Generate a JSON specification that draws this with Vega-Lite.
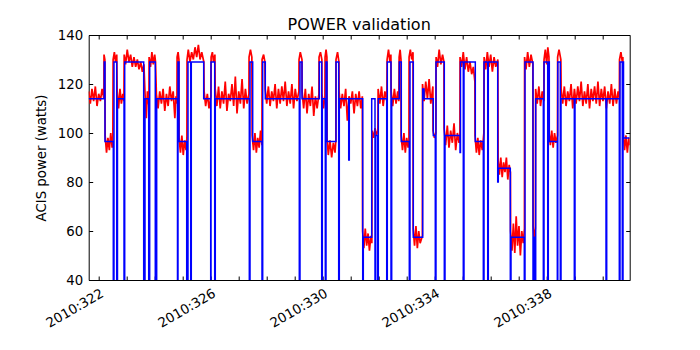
{
"$schema": "https://vega.github.io/schema/vega-lite/v6.json",
"width": 541, "height": 245,
"autosize": {"type": "none"},
"padding": {"left": 88.7, "top": 35, "right": 70.3, "bottom": 70},
"background": "white",
"title": {"text": "POWER validation", "font": "DejaVu Sans", "fontSize": 16, "fontWeight": "normal", "color": "black", "offset": -5},
"config": {
  "view": {"stroke": "black", "strokeWidth": 1},
  "axis": {"labelFont": "DejaVu Sans", "labelFontSize": 13.3, "labelColor": "black", "tickColor": "black", "tickWidth": 1, "domain": false, "grid": false, "titleFont": "DejaVu Sans", "titleFontSize": 13.3, "titleFontWeight": "normal", "titleColor": "black", "labelOverlap": false, "labelFlush": false}
},
"datasets": {
"telemetry": [
{"t":321.643,"p":117},{"t":321.70,"p":112},{"t":321.76,"p":118},{"t":321.82,"p":113},{"t":321.88,"p":119},{"t":321.94,"p":111},{"t":322.00,"p":116},{"t":322.06,"p":113},{"t":322.12,"p":118},{"t":322.185,"p":114},
{"t":322.19,"p":132},{"t":322.22,"p":130},
{"t":322.23,"p":99},{"t":322.28,"p":92},{"t":322.33,"p":98},{"t":322.38,"p":93},{"t":322.43,"p":100},{"t":322.48,"p":94},{"t":322.505,"p":97},
{"t":322.515,"p":130},{"t":322.56,"p":133},{"t":322.60,"p":129},{"t":322.645,"p":132},
{"t":322.66,"p":117},{"t":322.71,"p":110},{"t":322.76,"p":118},{"t":322.81,"p":112},{"t":322.86,"p":116},{"t":322.90,"p":113},
{"t":322.91,"p":132},{"t":322.96,"p":128},{"t":323.02,"p":134},{"t":323.08,"p":129},{"t":323.14,"p":132},{"t":323.20,"p":127},{"t":323.26,"p":131},{"t":323.32,"p":127},{"t":323.38,"p":130},{"t":323.44,"p":126},{"t":323.50,"p":129},{"t":323.56,"p":125},{"t":323.615,"p":128},
{"t":323.655,"p":116},{"t":323.70,"p":106},{"t":323.74,"p":117},{"t":323.795,"p":111},
{"t":323.80,"p":131},{"t":323.85,"p":127},{"t":323.90,"p":133},{"t":323.95,"p":128},{"t":324.00,"p":132},{"t":324.03,"p":129},
{"t":324.06,"p":116},{"t":324.12,"p":110},{"t":324.18,"p":117},{"t":324.24,"p":112},{"t":324.30,"p":118},{"t":324.36,"p":109},{"t":324.42,"p":116},{"t":324.48,"p":111},{"t":324.54,"p":119},{"t":324.60,"p":113},{"t":324.66,"p":117},{"t":324.72,"p":106},{"t":324.76,"p":115},{"t":324.795,"p":112},
{"t":324.80,"p":131},{"t":324.835,"p":133},{"t":324.865,"p":130},
{"t":324.87,"p":98},{"t":324.92,"p":92},{"t":324.97,"p":99},{"t":325.02,"p":91},{"t":325.07,"p":97},{"t":325.12,"p":93},{"t":325.15,"p":98},
{"t":325.155,"p":130},{"t":325.20,"p":134},{"t":325.26,"p":129},{"t":325.32,"p":133},{"t":325.38,"p":130},{"t":325.44,"p":135},{"t":325.50,"p":131},{"t":325.56,"p":136},{"t":325.62,"p":130},{"t":325.68,"p":133},{"t":325.755,"p":129},
{"t":325.765,"p":117},{"t":325.82,"p":111},{"t":325.88,"p":116},{"t":325.94,"p":110},{"t":326.005,"p":115},
{"t":326.015,"p":131},{"t":326.06,"p":133},{"t":326.10,"p":129},{"t":326.15,"p":132},
{"t":326.16,"p":118},{"t":326.22,"p":111},{"t":326.28,"p":119},{"t":326.34,"p":110},{"t":326.40,"p":117},{"t":326.46,"p":112},{"t":326.52,"p":121},{"t":326.58,"p":109},{"t":326.64,"p":116},{"t":326.70,"p":113},{"t":326.76,"p":120},{"t":326.82,"p":111},{"t":326.88,"p":123},{"t":326.94,"p":108},{"t":327.00,"p":117},{"t":327.06,"p":112},{"t":327.12,"p":122},{"t":327.18,"p":110},{"t":327.24,"p":118},{"t":327.30,"p":112},{"t":327.365,"p":116},
{"t":327.37,"p":131},{"t":327.42,"p":134},{"t":327.47,"p":131},
{"t":327.48,"p":99},{"t":327.53,"p":93},{"t":327.58,"p":100},{"t":327.63,"p":92},{"t":327.68,"p":98},{"t":327.73,"p":94},{"t":327.78,"p":101},{"t":327.83,"p":95},
{"t":327.835,"p":130},{"t":327.89,"p":132},{"t":327.935,"p":129},
{"t":327.945,"p":118},{"t":328.00,"p":112},{"t":328.06,"p":119},{"t":328.12,"p":111},{"t":328.18,"p":117},{"t":328.24,"p":113},{"t":328.30,"p":120},{"t":328.36,"p":110},{"t":328.42,"p":118},{"t":328.48,"p":112},{"t":328.54,"p":119},{"t":328.60,"p":113},{"t":328.66,"p":121},{"t":328.72,"p":111},{"t":328.78,"p":117},{"t":328.84,"p":112},{"t":328.90,"p":120},{"t":328.96,"p":110},{"t":329.02,"p":118},{"t":329.08,"p":113},{"t":329.15,"p":117},
{"t":329.155,"p":130},{"t":329.20,"p":133},{"t":329.26,"p":130},
{"t":329.265,"p":117},{"t":329.32,"p":110},{"t":329.38,"p":118},{"t":329.44,"p":108},{"t":329.50,"p":116},{"t":329.56,"p":111},{"t":329.62,"p":119},{"t":329.68,"p":107},{"t":329.74,"p":115},{"t":329.80,"p":110},{"t":329.865,"p":116},
{"t":329.87,"p":131},{"t":329.92,"p":133},{"t":329.97,"p":130},
{"t":329.975,"p":116},{"t":330.03,"p":110},{"t":330.08,"p":115},
{"t":330.085,"p":131},{"t":330.12,"p":134},{"t":330.15,"p":131},
{"t":330.155,"p":98},{"t":330.20,"p":91},{"t":330.26,"p":97},{"t":330.32,"p":90},{"t":330.38,"p":96},{"t":330.44,"p":92},{"t":330.47,"p":97},
{"t":330.475,"p":130},{"t":330.53,"p":133},{"t":330.58,"p":129},
{"t":330.585,"p":117},{"t":330.64,"p":110},{"t":330.70,"p":116},{"t":330.76,"p":111},{"t":330.82,"p":118},{"t":330.88,"p":105},{"t":330.94,"p":115},{"t":331.00,"p":112},{"t":331.06,"p":117},{"t":331.12,"p":108},{"t":331.18,"p":116},{"t":331.24,"p":111},{"t":331.30,"p":117},{"t":331.36,"p":110},{"t":331.415,"p":115},
{"t":331.425,"p":60},{"t":331.47,"p":53},{"t":331.52,"p":61},{"t":331.57,"p":54},{"t":331.62,"p":59},{"t":331.67,"p":52},{"t":331.72,"p":58},{"t":331.755,"p":55},
{"t":331.765,"p":101},{"t":331.82,"p":98},{"t":331.87,"p":102},{"t":331.92,"p":99},{"t":331.97,"p":101},
{"t":331.98,"p":118},{"t":332.04,"p":112},{"t":332.10,"p":119},{"t":332.16,"p":111},{"t":332.22,"p":117},{"t":332.29,"p":113},
{"t":332.30,"p":130},{"t":332.35,"p":134},{"t":332.40,"p":129},{"t":332.435,"p":132},
{"t":332.445,"p":117},{"t":332.50,"p":111},{"t":332.56,"p":118},{"t":332.62,"p":112},{"t":332.68,"p":117},{"t":332.72,"p":113},
{"t":332.73,"p":131},{"t":332.765,"p":134},{"t":332.795,"p":130},
{"t":332.80,"p":99},{"t":332.85,"p":93},{"t":332.90,"p":100},{"t":332.95,"p":92},{"t":333.00,"p":98},{"t":333.05,"p":94},{"t":333.08,"p":97},
{"t":333.085,"p":131},{"t":333.13,"p":134},{"t":333.18,"p":130},{"t":333.225,"p":133},
{"t":333.23,"p":61},{"t":333.28,"p":54},{"t":333.33,"p":62},{"t":333.38,"p":53},{"t":333.43,"p":60},{"t":333.48,"p":55},{"t":333.56,"p":58},
{"t":333.565,"p":120},{"t":333.62,"p":113},{"t":333.68,"p":121},{"t":333.74,"p":114},{"t":333.80,"p":122},{"t":333.86,"p":112},{"t":333.935,"p":119},
{"t":333.94,"p":101},{"t":333.99,"p":98},{"t":334.04,"p":100},
{"t":334.05,"p":131},{"t":334.10,"p":127},{"t":334.16,"p":134},{"t":334.22,"p":128},{"t":334.28,"p":132},{"t":334.33,"p":129},
{"t":334.335,"p":102},{"t":334.39,"p":95},{"t":334.45,"p":103},{"t":334.51,"p":94},{"t":334.57,"p":101},{"t":334.63,"p":96},{"t":334.69,"p":104},{"t":334.75,"p":93},{"t":334.81,"p":100},{"t":334.87,"p":96},{"t":334.90,"p":99},
{"t":334.905,"p":131},{"t":334.96,"p":127},{"t":335.02,"p":133},{"t":335.08,"p":126},{"t":335.14,"p":131},{"t":335.20,"p":125},{"t":335.26,"p":129},{"t":335.32,"p":124},{"t":335.38,"p":127},{"t":335.435,"p":121},
{"t":335.44,"p":99},{"t":335.49,"p":92},{"t":335.54,"p":98},{"t":335.59,"p":91},{"t":335.64,"p":97},{"t":335.70,"p":93},{"t":335.755,"p":100},
{"t":335.765,"p":131},{"t":335.82,"p":126},{"t":335.88,"p":133},{"t":335.94,"p":127},{"t":336.00,"p":132},{"t":336.06,"p":125},{"t":336.12,"p":131},{"t":336.18,"p":127},{"t":336.255,"p":130},
{"t":336.265,"p":89},{"t":336.31,"p":83},{"t":336.36,"p":90},{"t":336.41,"p":82},{"t":336.46,"p":88},{"t":336.51,"p":84},{"t":336.56,"p":90},{"t":336.61,"p":81},{"t":336.66,"p":87},{"t":336.705,"p":84},
{"t":336.71,"p":60},{"t":336.76,"p":52},{"t":336.81,"p":63},{"t":336.86,"p":51},{"t":336.91,"p":66},{"t":336.96,"p":54},{"t":337.01,"p":62},{"t":337.06,"p":50},{"t":337.11,"p":60},{"t":337.16,"p":55},{"t":337.205,"p":61},
{"t":337.21,"p":131},{"t":337.26,"p":126},{"t":337.32,"p":133},{"t":337.38,"p":127},{"t":337.44,"p":132},{"t":337.505,"p":128},
{"t":337.515,"p":62},{"t":337.55,"p":57},{"t":337.595,"p":61},
{"t":337.605,"p":118},{"t":337.66,"p":112},{"t":337.72,"p":119},{"t":337.78,"p":111},{"t":337.84,"p":117},{"t":337.90,"p":113},
{"t":337.905,"p":130},{"t":337.95,"p":134},{"t":338.00,"p":128},{"t":338.04,"p":135},{"t":338.08,"p":131},
{"t":338.085,"p":100},{"t":338.13,"p":95},{"t":338.18,"p":101},{"t":338.23,"p":94},{"t":338.28,"p":100},{"t":338.33,"p":96},{"t":338.385,"p":99},
{"t":338.39,"p":131},{"t":338.44,"p":134},{"t":338.505,"p":130},
{"t":338.515,"p":118},{"t":338.57,"p":112},{"t":338.63,"p":119},{"t":338.69,"p":111},{"t":338.75,"p":117},{"t":338.81,"p":113},{"t":338.87,"p":120},{"t":338.93,"p":110},{"t":338.99,"p":118},{"t":339.05,"p":112},{"t":339.11,"p":119},{"t":339.17,"p":113},{"t":339.23,"p":121},{"t":339.29,"p":111},{"t":339.35,"p":117},{"t":339.41,"p":112},{"t":339.47,"p":120},{"t":339.53,"p":110},{"t":339.59,"p":118},{"t":339.65,"p":113},{"t":339.71,"p":119},{"t":339.77,"p":112},{"t":339.83,"p":121},{"t":339.89,"p":111},{"t":339.95,"p":118},{"t":340.01,"p":113},{"t":340.07,"p":119},{"t":340.13,"p":110},{"t":340.19,"p":117},{"t":340.25,"p":112},{"t":340.31,"p":120},{"t":340.37,"p":111},{"t":340.43,"p":118},{"t":340.49,"p":112},{"t":340.55,"p":117},{"t":340.595,"p":114},
{"t":340.60,"p":130},{"t":340.65,"p":133},{"t":340.70,"p":129},{"t":340.72,"p":131},
{"t":340.73,"p":100},{"t":340.78,"p":93},{"t":340.83,"p":99},{"t":340.88,"p":92},{"t":340.93,"p":98},{"t":340.964,"p":95}
],
"model": [
{"t":321.643,"p":114},{"t":322.2,"p":114},{"t":322.2,"p":129},{"t":322.225,"p":129},{"t":322.225,"p":96.5},{"t":322.521,"p":96.5},{"t":322.521,"p":0},{"t":322.546,"p":0},{"t":322.546,"p":129},{"t":322.643,"p":129},{"t":322.643,"p":0},{"t":322.671,"p":0},{"t":322.671,"p":114},{"t":322.904,"p":114},{"t":322.904,"p":0},{"t":322.929,"p":0},{"t":322.929,"p":129},{"t":323.607,"p":129},{"t":323.607,"p":0},{"t":323.654,"p":0},{"t":323.654,"p":114},{"t":323.786,"p":114},{"t":323.786,"p":0},{"t":323.821,"p":0},{"t":323.821,"p":129},{"t":324.021,"p":129},{"t":324.021,"p":0},{"t":324.071,"p":0},{"t":324.071,"p":114},{"t":324.814,"p":114},{"t":324.814,"p":0},{"t":324.832,"p":0},{"t":324.832,"p":129},{"t":324.868,"p":129},{"t":324.868,"p":96.5},{"t":325.143,"p":96.5},{"t":325.143,"p":0},{"t":325.189,"p":0},{"t":325.189,"p":129},{"t":325.286,"p":129},{"t":325.286,"p":0},{"t":325.307,"p":0},{"t":325.307,"p":129},{"t":325.75,"p":129},{"t":325.75,"p":114},{"t":326.0,"p":114},{"t":326.0,"p":0},{"t":326.011,"p":0},{"t":326.011,"p":129},{"t":326.143,"p":129},{"t":326.143,"p":0},{"t":326.164,"p":0},{"t":326.164,"p":114},{"t":327.379,"p":114},{"t":327.379,"p":0},{"t":327.404,"p":0},{"t":327.404,"p":129},{"t":327.5,"p":129},{"t":327.5,"p":96.5},{"t":327.832,"p":96.5},{"t":327.832,"p":0},{"t":327.857,"p":0},{"t":327.857,"p":129},{"t":327.95,"p":129},{"t":327.95,"p":114},{"t":329.164,"p":114},{"t":329.164,"p":0},{"t":329.189,"p":0},{"t":329.189,"p":129},{"t":329.261,"p":129},{"t":329.261,"p":114},{"t":329.879,"p":114},{"t":329.879,"p":129},{"t":329.964,"p":129},{"t":329.964,"p":0},{"t":329.986,"p":0},{"t":329.986,"p":114},{"t":330.093,"p":114},{"t":330.093,"p":0},{"t":330.118,"p":0},{"t":330.118,"p":129},{"t":330.154,"p":129},{"t":330.154,"p":96.5},{"t":330.475,"p":96.5},{"t":330.475,"p":129},{"t":330.571,"p":129},{"t":330.571,"p":0},{"t":330.593,"p":0},{"t":330.593,"p":114},{"t":330.929,"p":114},{"t":330.929,"p":89},{"t":330.95,"p":89},{"t":330.95,"p":114},{"t":331.429,"p":114},{"t":331.429,"p":0},{"t":331.45,"p":0},{"t":331.45,"p":57.4},{"t":331.75,"p":57.4},{"t":331.75,"p":114},{"t":331.868,"p":114},{"t":331.868,"p":0},{"t":331.893,"p":0},{"t":331.893,"p":99},{"t":331.964,"p":99},{"t":331.964,"p":0},{"t":331.986,"p":0},{"t":331.986,"p":114},{"t":332.286,"p":114},{"t":332.286,"p":0},{"t":332.307,"p":0},{"t":332.307,"p":129},{"t":332.439,"p":129},{"t":332.439,"p":0},{"t":332.464,"p":0},{"t":332.464,"p":114},{"t":332.736,"p":114},{"t":332.736,"p":129},{"t":332.807,"p":129},{"t":332.807,"p":96.5},{"t":333.093,"p":96.5},{"t":333.093,"p":0},{"t":333.118,"p":0},{"t":333.118,"p":129},{"t":333.236,"p":129},{"t":333.236,"p":57.4},{"t":333.571,"p":57.4},{"t":333.571,"p":118},{"t":333.618,"p":118},{"t":333.618,"p":114},{"t":333.95,"p":114},{"t":333.95,"p":99},{"t":334.021,"p":99},{"t":334.021,"p":0},{"t":334.046,"p":0},{"t":334.046,"p":129},{"t":334.343,"p":129},{"t":334.343,"p":0},{"t":334.368,"p":0},{"t":334.368,"p":99},{"t":334.904,"p":99},{"t":334.904,"p":92},{"t":334.921,"p":92},{"t":334.921,"p":129},{"t":335.021,"p":129},{"t":335.021,"p":0},{"t":335.046,"p":0},{"t":335.046,"p":129},{"t":335.45,"p":129},{"t":335.45,"p":96.5},{"t":335.736,"p":96.5},{"t":335.736,"p":0},{"t":335.761,"p":0},{"t":335.761,"p":129},{"t":335.893,"p":129},{"t":335.893,"p":0},{"t":335.914,"p":0},{"t":335.914,"p":129},{"t":336.25,"p":129},{"t":336.25,"p":80},{"t":336.271,"p":80},{"t":336.271,"p":85.6},{"t":336.7,"p":85.6},{"t":336.7,"p":0},{"t":336.725,"p":0},{"t":336.725,"p":57.4},{"t":337.2,"p":57.4},{"t":337.2,"p":0},{"t":337.225,"p":0},{"t":337.225,"p":129},{"t":337.511,"p":129},{"t":337.511,"p":0},{"t":337.529,"p":0},{"t":337.529,"p":57.4},{"t":337.582,"p":57.4},{"t":337.582,"p":0},{"t":337.607,"p":0},{"t":337.607,"p":114},{"t":337.879,"p":114},{"t":337.879,"p":0},{"t":337.904,"p":0},{"t":337.904,"p":129},{"t":338.036,"p":129},{"t":338.036,"p":0},{"t":338.057,"p":0},{"t":338.057,"p":129},{"t":338.093,"p":129},{"t":338.093,"p":96.5},{"t":338.379,"p":96.5},{"t":338.379,"p":0},{"t":338.396,"p":0},{"t":338.396,"p":129},{"t":338.486,"p":129},{"t":338.486,"p":0},{"t":338.511,"p":0},{"t":338.511,"p":114},{"t":338.986,"p":114},{"t":338.986,"p":0},{"t":339.011,"p":0},{"t":339.011,"p":114},{"t":340.118,"p":114},{"t":340.118,"p":0},{"t":340.143,"p":0},{"t":340.143,"p":114},{"t":340.593,"p":114},{"t":340.593,"p":0},{"t":340.618,"p":0},{"t":340.618,"p":129},{"t":340.7,"p":129},{"t":340.7,"p":0},{"t":340.725,"p":0},{"t":340.725,"p":129},{"t":340.743,"p":129},{"t":340.743,"p":98},{"t":340.964,"p":98}
]
},
"layer": [
{
  "data": {"name": "telemetry"},
  "mark": {"type": "line", "color": "#ff0000", "strokeWidth": 1.7, "clip": true},
  "encoding": {
    "x": {"field": "t", "type": "quantitative", "scale": {"domain": [321.643, 340.964], "nice": false, "zero": false},
      "axis": {"orient": "bottom", "title": null, "values": [322,323,324,325,326,327,328,329,330,331,332,333,334,335,336,337,338,339,340], "labelExpr": "datum.value % 4 == 2 ? '2010:' + datum.value : ''", "labelAngle": -30, "labelAlign": "right", "labelBaseline": "top", "labelDx": -10.4, "labelDy": -6, "tickSize": -4, "labelPadding": 10}},
    "y": {"field": "p", "type": "quantitative", "scale": {"domain": [40, 140], "nice": false, "zero": false},
      "axis": {"orient": "left", "title": "ACIS power (watts)", "values": [40,60,80,100,120,140], "tickSize": -4, "labelPadding": 10, "titleX": -40, "titleY": 122.5, "titleBaseline": "bottom"}},
    "order": {"value": null}
  }
},
{
  "data": {"name": "model"},
  "mark": {"type": "line", "color": "#0000ff", "strokeWidth": 1.5, "clip": true},
  "encoding": {
    "x": {"field": "t", "type": "quantitative", "scale": {"domain": [321.643, 340.964], "nice": false, "zero": false},
      "axis": {"orient": "top", "title": null, "labels": false, "values": [322,323,324,325,326,327,328,329,330,331,332,333,334,335,336,337,338,339,340], "tickSize": -4}},
    "y": {"field": "p", "type": "quantitative", "scale": {"domain": [40, 140], "nice": false, "zero": false},
      "axis": {"orient": "right", "title": null, "labels": false, "values": [40,60,80,100,120,140], "tickSize": -4}},
    "order": {"value": null}
  }
}
],
"resolve": {"axis": {"x": "independent", "y": "independent"}}
}
